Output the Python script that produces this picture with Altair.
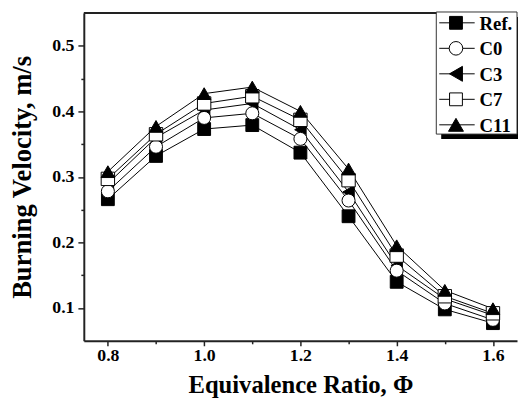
import altair as alt
import pandas as pd

phi = [0.8, 0.9, 1.0, 1.1, 1.2, 1.3, 1.4, 1.5, 1.6]
series = ["Ref.", "C0", "C3", "C7", "C11"]
ref = [0.266, 0.332, 0.373, 0.379, 0.337, 0.240, 0.140, 0.098, 0.077]
c0 = [0.278, 0.346, 0.390, 0.397, 0.358, 0.264, 0.157, 0.107, 0.082]
c3 = [0.290, 0.360, 0.402, 0.412, 0.372, 0.277, 0.165, 0.114, 0.089]
c7 = [0.297, 0.365, 0.412, 0.423, 0.387, 0.295, 0.180, 0.118, 0.092]
c11 = [0.308, 0.377, 0.427, 0.437, 0.400, 0.312, 0.195, 0.127, 0.099]
values = [ref, c0, c3, c7, c11]

shapes = ["square", "circle", "triangle-left", "square", "triangle-up"]
fills = ["black", "white", "black", "white", "black"]
sizes = [170, 190, 230, 170, 230]
draw_order = ["Ref.", "C3", "C0", "C7", "C11"]

x_major = [0.8, 1.0, 1.2, 1.4, 1.6]
x_minor = [0.9, 1.1, 1.3, 1.5]
y_major = [0.1, 0.2, 0.3, 0.4, 0.5]
y_minor = [0.15, 0.25, 0.35, 0.45]

rows = []
for s, vals in zip(series, values):
    for p, v in zip(phi, vals):
        rows.append({"phi": p, "v": v, "series": s, "rank": draw_order.index(s)})
df = pd.DataFrame(rows).sort_values(["rank", "phi"]).reset_index(drop=True)

W, H = 440, 333
FONT = "Liberation Serif"

xs = alt.Scale(domain=[0.75, 1.65], nice=False, zero=False)
ys = alt.Scale(domain=[0.05, 0.55], nice=False, zero=False)

base = alt.Chart(df)

lines = base.mark_line(color="black", strokeWidth=1).encode(
    x=alt.X("phi:Q", scale=xs,
            axis=alt.Axis(values=x_major, format=".1f", title="Equivalence Ratio, \u03a6",
                          orient="bottom", tickSize=5, labelPadding=1,
                          titleX=W / 2, titleY=52, titleBaseline="alphabetic",
                          titleFontSize=25)),
    y=alt.Y("v:Q", scale=ys,
            axis=alt.Axis(values=y_major, format=".1f", title="Burning Velocity, m/s",
                          orient="left", tickSize=6, labelPadding=4,
                          titleX=-54, titleBaseline="alphabetic", titleFontSize=27)),
    detail="series:N",
)

points = base.mark_point(filled=True, stroke="black", strokeWidth=1, opacity=1).encode(
    x=alt.X("phi:Q", scale=xs, axis=None),
    y=alt.Y("v:Q", scale=ys, axis=None),
    shape=alt.Shape("series:N", scale=alt.Scale(domain=series, range=shapes), legend=None),
    fill=alt.Fill("series:N", scale=alt.Scale(domain=series, range=fills), legend=None),
    size=alt.Size("series:N", scale=alt.Scale(domain=series, range=sizes), legend=None),
    order=alt.Order("rank:Q"),
)

minor = alt.Chart(pd.DataFrame({"phi": [1.0], "v": [0.3]})).mark_point(opacity=0).encode(
    x=alt.X("phi:Q", scale=xs,
            axis=alt.Axis(values=x_minor, labels=False, domain=False, grid=False,
                          tickSize=3, title=None, orient="bottom")),
    y=alt.Y("v:Q", scale=ys,
            axis=alt.Axis(values=y_minor, labels=False, domain=False, grid=False,
                          tickSize=3, title=None, orient="left")),
)

dummy = pd.DataFrame({"a": [0]})
top_rule = alt.Chart(dummy).mark_rule(color="#222", strokeWidth=2).encode(
    x=alt.value(0), x2=alt.value(W), y=alt.value(0)
)

# legend
LX0, LX1, LY0, LY1 = 358, 440, -1, 123
shadow = alt.Chart(dummy).mark_rect(color="black").encode(
    x=alt.value(LX0 + 5), x2=alt.value(LX1 + 5), y=alt.value(LY0 + 5), y2=alt.value(LY1 + 5)
)
box = alt.Chart(dummy).mark_rect(fill="white", stroke="#333", strokeWidth=1).encode(
    x=alt.value(LX0), x2=alt.value(LX1), y=alt.value(LY0), y2=alt.value(LY1)
)
leg_layers = [shadow, box]
for i, s in enumerate(series):
    yy = 10 + 25.9 * i
    leg_layers.append(alt.Chart(dummy).mark_rule(color="black", strokeWidth=1).encode(
        x=alt.value(361), x2=alt.value(397), y=alt.value(yy)))
    leg_layers.append(alt.Chart(dummy).mark_point(
        shape=shapes[i], fill=fills[i], filled=True, stroke="black", strokeWidth=1,
        size=sizes[i], opacity=1).encode(x=alt.value(378), y=alt.value(yy)))
    leg_layers.append(alt.Chart(dummy).mark_text(
        text=s, font=FONT, fontWeight="bold", fontSize=19, align="left",
        baseline="middle", color="black").encode(x=alt.value(402), y=alt.value(yy + 1)))

chart = alt.layer(top_rule, lines, points, minor, *leg_layers).resolve_axis(
    x="independent", y="independent"
).properties(
    width=W, height=H,
    autosize=alt.AutoSizeParams(type="none"),
    padding={"left": 77, "top": 2, "right": 1, "bottom": 55},
).configure_view(stroke=None).configure_axis(
    grid=False,
    domainColor="#222", domainWidth=2,
    tickColor="#222", tickWidth=1.5,
    labelFont=FONT, labelFontWeight="bold", labelFontSize=18, labelColor="black",
    titleFont=FONT, titleFontWeight="bold", titleColor="black",
)

chart.save("out.html", embed_options={"renderer": "svg", "actions": False})
